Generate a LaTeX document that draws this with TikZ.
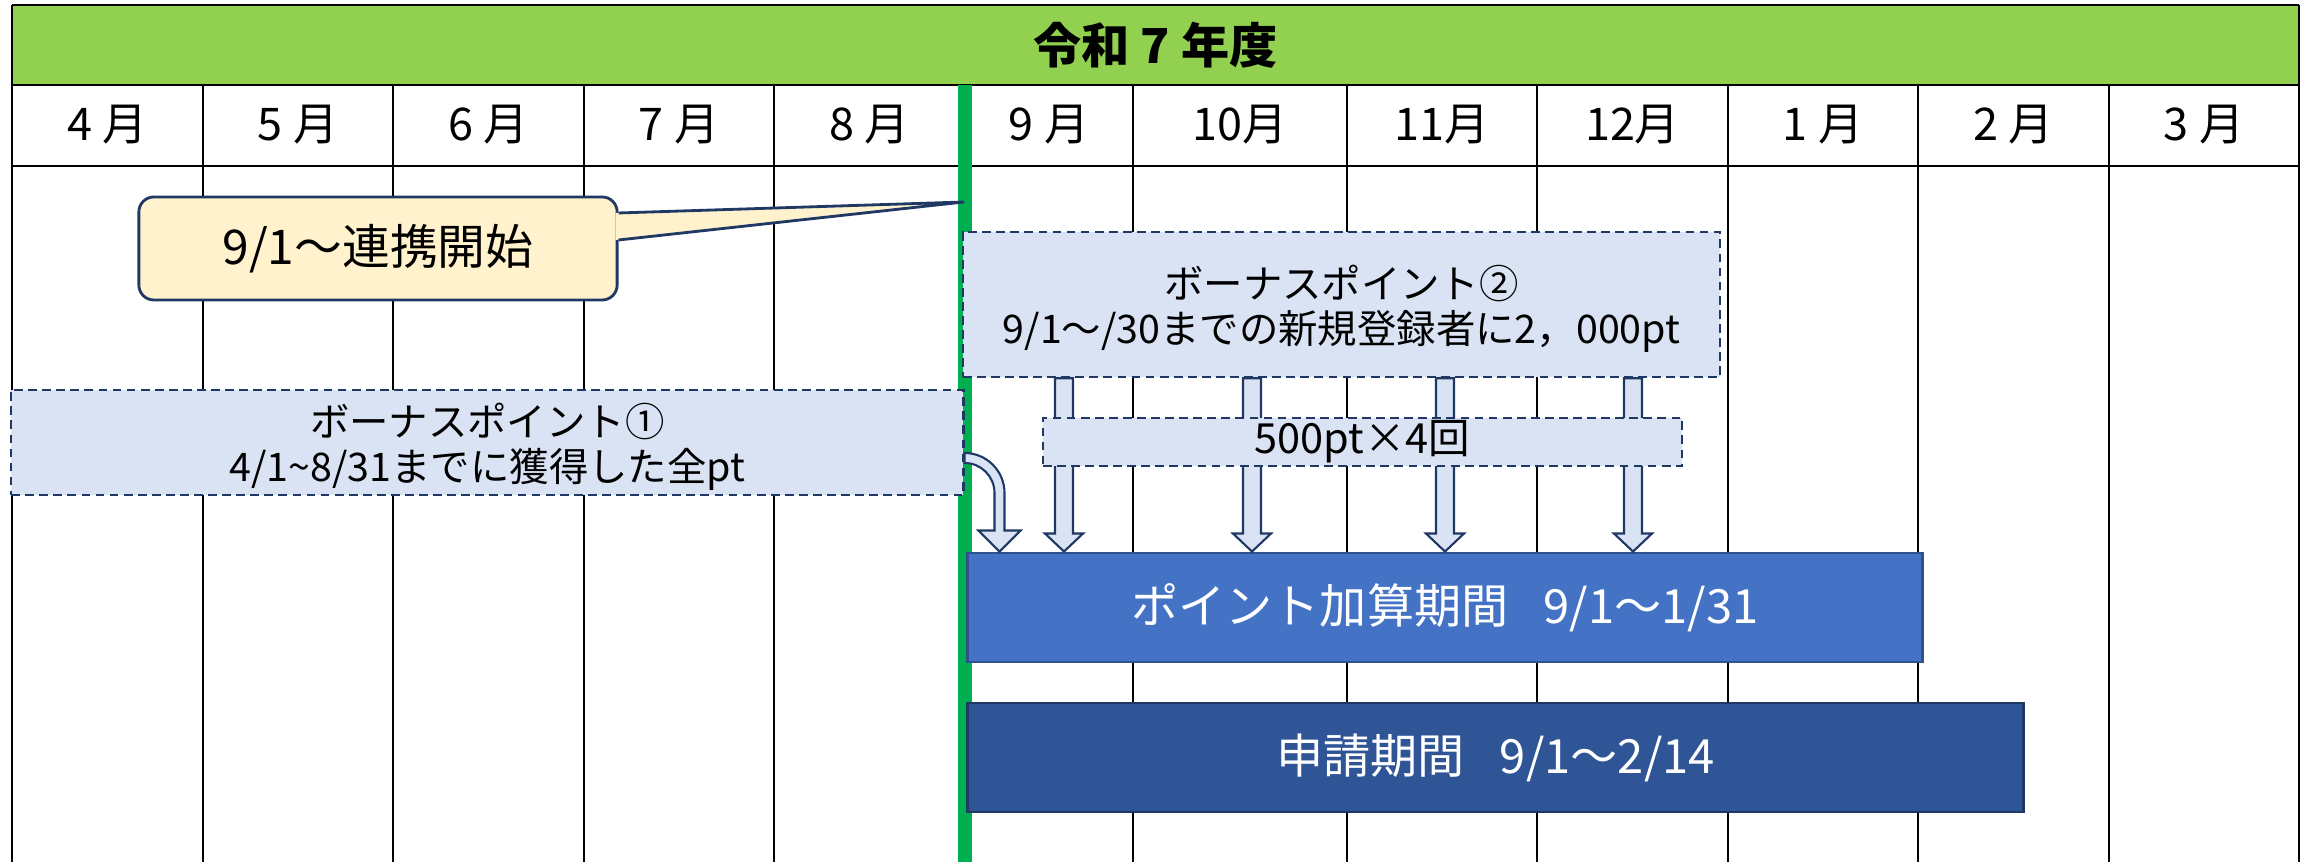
\documentclass[tikz,border=0pt]{standalone}
\usepackage{fontspec}
\setmainfont{Noto Sans CJK JP}
\usetikzlibrary{calc}
\definecolor{hdrGreen}{RGB}{146,208,80}
\definecolor{lineGreen}{RGB}{0,176,80}
\definecolor{noteYellow}{RGB}{255,242,204}
\definecolor{navy}{RGB}{31,56,100}
\definecolor{bonusBlue}{RGB}{218,227,243}
\definecolor{barBlue}{RGB}{68,114,196}
\definecolor{barBlueLine}{RGB}{47,82,143}
\definecolor{barDark}{RGB}{47,85,151}

\begin{document}
\begin{tikzpicture}[x=0.01cm, y=-0.01cm,
    grid/.style={line width=0.6pt},
    month/.style={font=\fontsize{12.8pt}{15pt}\selectfont},
    bonus/.style={draw=navy, fill=bonusBlue, line width=0.7pt, dash pattern=on 2.5pt off 1.5pt,
      inner sep=0pt, align=center, font=\fontsize{11.2pt}{12.6pt}\selectfont},
    bar/.style={line width=0.8pt, text=white, inner sep=0pt, font=\fontsize{13.4pt}{15pt}\selectfont},
    blockarrow/.style={draw=navy, fill=bonusBlue, line width=0.6pt, line join=miter}]
  \useasboundingbox (0,0) rectangle (2308,862);
  % header row
  \node[fill=hdrGreen, minimum width=22.87cm, minimum height=0.8cm, inner sep=0pt,
    font=\fontsize{13.7pt}{16pt}\selectfont\bfseries] (hdr) at (1155.5,45) {令和 7 年度};
  % table lines
  \draw[grid] (12,5) -- (2299,5) (12,85) -- (2299,85) (12,166) -- (2299,166);
  \draw[grid] (12,5) -- (12,85) (2299,5) -- (2299,85);
  \foreach \x in {12,203,393,584,774,1133,1347,1537,1728,1918,2109,2299}
    \draw[grid] (\x,85) -- (\x,862);
  % months
  \foreach \l/\r/\t [count=\i] in {12/203/4 月, 203/393/5 月, 393/584/6 月, 584/774/7 月,
      774/965/8 月, 965/1133/9 月, 1133/1347/10月, 1347/1537/11月, 1537/1728/12月,
      1728/1918/1 月, 1918/2109/2 月, 2109/2299/3 月}
    \node[month] (m\i) at ({(\l+\r)/2},125) {\t};
  % start of link-up
  \draw[lineGreen, line width=4pt] (965,85) -- (965,862);
  \node[draw=navy, fill=noteYellow, line width=0.8pt, rounded corners=0.15cm, minimum width=4.78cm,
    minimum height=1.03cm, inner sep=0pt, font=\fontsize{13.6pt}{15pt}\selectfont] (start) at (378,248.5) {9/1～連携開始};
  \coordinate (tip) at (964,202);
  \fill[noteYellow] ($(start.east)+(-3,-35.5)$) -- (tip) -- ($(start.east)+(-3,-8.5)$) -- cycle;
  \draw[navy, line width=0.8pt] ($(start.east)+(0,-35.5)$) -- (tip) -- ($(start.east)+(0,-8.5)$);
  % bonus boxes
  \node[bonus, minimum width=7.57cm, minimum height=1.45cm] (b2) at (1341.5,304.5)
    {\rule{0pt}{12pt}ボーナスポイント②\\9/1～/30までの新規登録者に2，000pt};
  \node[bonus, minimum width=9.515cm, minimum height=1.05cm] (b1) at (487.25,442.5)
    {\rule{0pt}{12pt}ボーナスポイント①\\4/1\textasciitilde 8/31までに獲得した全pt};
  % periods
  \node[bar, draw=barBlueLine, fill=barBlue, minimum width=9.54cm, minimum height=1.09cm] (bar1)
    at (1445,607.5) {ポイント加算期間\hspace{0.75em}9/1～1/31};
  \node[bar, draw=navy, fill=barDark, minimum width=10.55cm, minimum height=1.09cm] (bar2)
    at (1495.5,757.5) {申請期間\hspace{0.75em}9/1～2/14};
  % 500pt arrows
  \foreach \x [count=\i] in {1064,1252,1445,1633} {
    \path (\x,0) coordinate (ax\i);
    \coordinate (s\i) at (b2.south -| ax\i);
    \coordinate (t\i) at (bar1.north -| ax\i);
    \draw[blockarrow] ($(s\i)+(-9,0)$) -- ($(t\i)+(-9,-18)$) -- ($(t\i)+(-19,-18)$) -- (t\i)
      -- ($(t\i)+(19,-18)$) -- ($(t\i)+(9,-18)$) -- ($(s\i)+(9,0)$) -- cycle;
  }
  % turn arrow from bonus 1
  \coordinate (us) at ($(b1.east)+(0,15.5)$);
  \coordinate (ub) at (us |- bar1.north);
  \coordinate (ut) at ($(ub)+(35,0)$);
  \draw[blockarrow] ($(us)+(0,-5)$) arc[start angle=-90, end angle=0, radius=40]
    -- ($(ut)+(5,-21)$) -- ($(ut)+(21,-21)$) -- (ut) -- ($(ut)+(-21,-21)$) -- ($(ut)+(-5,-21)$)
    -- ($(us)+(30,35)$) arc[start angle=0, end angle=-90, radius=30] -- cycle;
  \node[bonus, minimum width=6.39cm, minimum height=0.48cm, font=\fontsize{11.8pt}{13pt}\selectfont] (times)
    at (1362.5,442) {500pt×4回};
\end{tikzpicture}
\end{document}
